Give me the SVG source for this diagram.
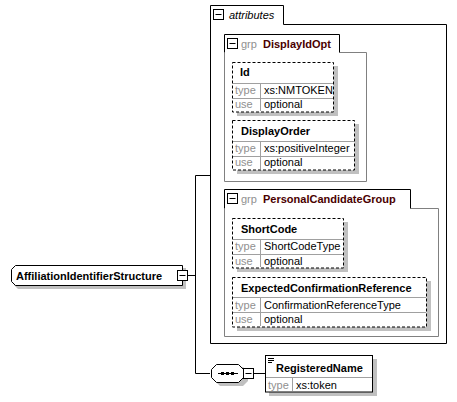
<svg xmlns="http://www.w3.org/2000/svg" width="457" height="402" viewBox="0 0 457 402">
  <style>
    text { font-family: "Liberation Sans", Arial, sans-serif; font-size: 11px; }
    .title { font-weight: bold; fill: #000; }
    .grpname { font-weight: bold; fill: #4a0000; }
    .muted { fill: #909090; }
    .val { fill: #000; }
    .shadow { fill: #c0c0c0; stroke: none; }
    .dashed { fill: #fff; stroke: #000; stroke-width: 1; stroke-dasharray: 3 2; }
    .solid { fill: #fff; stroke: #000; stroke-width: 1; }
    .sep { stroke: #a0a0a0; stroke-width: 1; fill: none; }
    .grpbox { fill: none; stroke: #808080; stroke-width: 1; }
    .tab { fill: #fff; stroke: #000; stroke-width: 1; }
    .btn { fill: #fff; stroke: #000; stroke-width: 1; }
    .conn { fill: none; stroke: #000; stroke-width: 1; }
  </style>
  <defs>
    <g id="minus">
      <rect class="btn" x="0.5" y="0.5" width="10" height="10"/>
      <line x1="2.5" y1="5.5" x2="8.5" y2="5.5" stroke="#000"/>
    </g>
  </defs>
  <rect width="457" height="402" fill="#fff"/>

  <!-- connectors -->
  <g id="connectors">
    <path class="conn" d="M188,275.5 H195.5"/>
    <path class="conn" d="M195.5,175.5 V373.5"/>
    <path class="conn" d="M195.5,175.5 H210"/>
    <path class="conn" d="M195.5,373.5 H210"/>
    <path class="conn" d="M254,373.5 H265"/>
  </g>

  <!-- attributes container -->
  <g id="attributes">
    <path class="conn" d="M210.5,343.5 V5.5 H283.5 V24.5 H446.5 V343.5 Z"/>
    <use href="#minus" x="213" y="9"/>
    <text x="229" y="19" font-style="italic" fill="#000">attributes</text>
  </g>

  <!-- group DisplayIdOpt -->
  <g id="grp-DisplayIdOpt">
    <path class="grpbox" d="M224.5,52.5 V181.5 H366.5 V52.5 H339.5"/>
    <path class="tab" d="M224.5,52.5 V34.5 H339.5 V52.5"/>
    <use href="#minus" x="227" y="38"/>
    <text x="241" y="48" class="muted">grp</text>
    <text x="263" y="48" class="grpname">DisplayIdOpt</text>
  </g>

  <g id="attr-Id">
    <rect class="shadow" x="237" y="66" width="101" height="50"/>
    <rect class="dashed" x="232.5" y="62.5" width="101" height="49.5"/>
    <path class="sep" d="M233,83.5 H333 M233,98.5 H333 M260.5,84 V111"/>
    <text x="240" y="76" class="title">Id</text>
    <text x="235" y="94" class="muted">type</text>
    <text x="264" y="94" class="val">xs:NMTOKEN</text>
    <text x="235" y="108" class="muted">use</text>
    <text x="264" y="108" class="val">optional</text>
  </g>

  <g id="attr-DisplayOrder">
    <rect class="shadow" x="237" y="124" width="122" height="50"/>
    <rect class="dashed" x="232.5" y="120.5" width="122" height="49.5"/>
    <path class="sep" d="M233,141.5 H354 M233,156.5 H354 M260.5,142 V169"/>
    <text x="241" y="135" class="title">DisplayOrder</text>
    <text x="235" y="152" class="muted">type</text>
    <text x="264" y="152" class="val">xs:positiveInteger</text>
    <text x="235" y="166" class="muted">use</text>
    <text x="264" y="166" class="val">optional</text>
  </g>

  <!-- group PersonalCandidateGroup -->
  <g id="grp-PersonalCandidateGroup">
    <path class="grpbox" d="M224.5,208.5 V336.5 H438.5 V208.5 H410.5"/>
    <path class="tab" d="M224.5,208.5 V189.5 H410.5 V208.5"/>
    <use href="#minus" x="227" y="193"/>
    <text x="241" y="203" class="muted">grp</text>
    <text x="263" y="203" class="grpname">PersonalCandidateGroup</text>
  </g>

  <g id="attr-ShortCode">
    <rect class="shadow" x="237" y="222" width="111" height="50"/>
    <rect class="dashed" x="232.5" y="218.5" width="111" height="49.5"/>
    <path class="sep" d="M233,239.5 H343 M233,254.5 H343 M260.5,240 V267"/>
    <text x="241" y="233" class="title">ShortCode</text>
    <text x="235" y="250" class="muted">type</text>
    <text x="264" y="250" class="val">ShortCodeType</text>
    <text x="235" y="265" class="muted">use</text>
    <text x="264" y="265" class="val">optional</text>
  </g>

  <g id="attr-ExpectedConfirmationReference">
    <rect class="shadow" x="237" y="281" width="194" height="50"/>
    <rect class="dashed" x="232.5" y="277.5" width="194" height="49.5"/>
    <path class="sep" d="M233,297.5 H426 M233,312.5 H426 M260.5,298 V326"/>
    <text x="241" y="292" class="title">ExpectedConfirmationReference</text>
    <text x="235" y="309" class="muted">type</text>
    <text x="264" y="309" class="val">ConfirmationReferenceType</text>
    <text x="235" y="323" class="muted">use</text>
    <text x="264" y="323" class="val">optional</text>
  </g>

  <!-- root complex type -->
  <g id="AffiliationIdentifierStructure">
    <path class="shadow" d="M18,268 H186 V289 H18 L14,285 V272 Z"/>
    <path class="solid" d="M15.5,265.5 H182.5 V285.5 H15.5 L11.5,281.5 V269.5 Z"/>
    <text x="16" y="279.5" class="title" font-size="11.5">AffiliationIdentifierStructure</text>
    <use href="#minus" x="177" y="270"/>
  </g>

  <!-- sequence compositor -->
  <g id="sequence">
    <path class="shadow" d="M220,367 H243 L248,372 V381 L243,386 H220 L215,381 V372 Z"/>
    <path class="solid" d="M216.5,364.5 H238.5 L243.5,369.5 V377.5 L238.5,382.5 H216.5 L211.5,377.5 V369.5 Z"/>
    <line x1="218" y1="373.5" x2="238" y2="373.5" stroke="#000"/>
    <rect x="221" y="372" width="3" height="3" fill="#000"/>
    <rect x="226" y="372" width="3" height="3" fill="#000"/>
    <rect x="231" y="372" width="3" height="3" fill="#000"/>
    <use href="#minus" x="243" y="368"/>
  </g>

  <!-- element RegisteredName -->
  <g id="RegisteredName">
    <rect class="shadow" x="269" y="359" width="108" height="37"/>
    <rect class="solid" x="265.5" y="355.5" width="107" height="36.5"/>
    <path class="sep" d="M266,377.5 H372 M292.5,378 V391"/>
    <path d="M268,358.5 H274 M268,360.5 H274 M268,362.5 H272" stroke="#000" stroke-width="1"/>
    <text x="276" y="372" class="title">RegisteredName</text>
    <text x="268" y="389" class="muted">type</text>
    <text x="296" y="389" class="val">xs:token</text>
  </g>
</svg>
